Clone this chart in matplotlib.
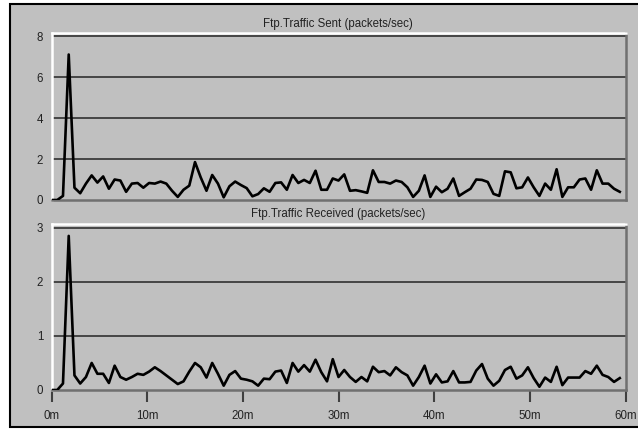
import numpy as np
import matplotlib
matplotlib.use("Agg")
import matplotlib.pyplot as plt
from matplotlib.patches import Rectangle

# samples every 0.6 minutes
minutes = np.arange(100) * 0.6

sent = [0.0, 0.0, 0.2, 7.1, 0.6, 0.33, 0.8, 1.2, 0.85, 1.15,
        0.55, 1.0, 0.95, 0.4, 0.8, 0.83, 0.6, 0.83, 0.8, 0.9,
        0.8, 0.45, 0.15, 0.5, 0.7, 1.85, 1.1, 0.45, 1.22, 0.8,
        0.13, 0.67, 0.9, 0.73, 0.58, 0.18, 0.29, 0.57, 0.4, 0.83,
        0.86, 0.5, 1.22, 0.83, 0.98, 0.83, 1.43, 0.5, 0.5, 1.05,
        0.95, 1.25, 0.45, 0.48, 0.42, 0.35, 1.45, 0.88, 0.88, 0.8,
        0.95, 0.88, 0.62, 0.15, 0.45, 1.2, 0.15, 0.65, 0.38, 0.55,
        1.05, 0.2, 0.38, 0.55, 1.0, 0.98, 0.88, 0.3, 0.2, 1.4,
        1.35, 0.57, 0.62, 1.1, 0.62, 0.2, 0.8, 0.5, 1.5, 0.15,
        0.62, 0.62, 1.0, 1.05, 0.5, 1.45, 0.8, 0.8, 0.55, 0.4]

received = [0.0, 0.0, 0.12, 2.85, 0.27, 0.12, 0.24, 0.5, 0.3, 0.3,
            0.13, 0.45, 0.24, 0.19, 0.24, 0.3, 0.28, 0.34, 0.42, 0.35,
            0.27, 0.19, 0.11, 0.16, 0.34, 0.5, 0.42, 0.23, 0.5, 0.3,
            0.08, 0.28, 0.35, 0.21, 0.19, 0.16, 0.08, 0.21, 0.2, 0.34,
            0.36, 0.13, 0.5, 0.34, 0.46, 0.34, 0.56, 0.33, 0.16, 0.57,
            0.24, 0.37, 0.24, 0.15, 0.24, 0.16, 0.43, 0.33, 0.35, 0.27,
            0.42, 0.33, 0.27, 0.08, 0.24, 0.45, 0.12, 0.29, 0.14, 0.16,
            0.35, 0.14, 0.14, 0.15, 0.36, 0.48, 0.21, 0.08, 0.17, 0.37,
            0.43, 0.21, 0.27, 0.42, 0.22, 0.06, 0.23, 0.15, 0.43, 0.09,
            0.23, 0.23, 0.23, 0.35, 0.3, 0.45, 0.28, 0.24, 0.15, 0.22]

sent_ticks = [0, 2, 4, 6, 8]
recv_ticks = [0, 1, 2, 3]
x_ticks = [0, 10, 20, 30, 40, 50, 60]
x_labels = ["0m", "10m", "20m", "30m", "40m", "50m", "60m"]

GREY = "#c0c0c0"
plt.rcParams['font.family'] = ['Liberation Sans', 'DejaVu Sans']

W, H = 638, 429
fig = plt.figure(figsize=(W / 100, H / 100), dpi=100, facecolor="white")

# grey outer panel with black border on left/top/bottom
panel = Rectangle((10 / W, 1 - 427 / H), 640 / W, 423 / H,
                  transform=fig.transFigure, facecolor=GREY,
                  edgecolor="black", linewidth=1.5, zorder=-5)
fig.patches.append(panel)


def style(ax, ylim, yticks):
    ax.set_facecolor(GREY)
    ax.set_xlim(0, 60)
    ax.set_ylim(*ylim)
    ax.set_yticks(yticks)
    ax.set_yticklabels([str(t) for t in yticks], fontsize=8.3, color="#222222")
    ax.tick_params(axis="y", length=0, pad=6)
    for t in yticks[1:]:
        ax.axhline(t, color="#303030", linewidth=1.2, zorder=1)
    ax.spines["top"].set_color("white")
    ax.spines["left"].set_color("white")
    ax.spines["right"].set_color("#707070")
    ax.spines["bottom"].set_color("#707070")
    for s in ax.spines.values():
        s.set_linewidth(1.8)


ax1 = fig.add_axes([51.5 / W, 1 - 200 / H, 574 / W, 167 / H])
style(ax1, (0, 8.15), sent_ticks)
ax1.plot(minutes, sent, color="black", linewidth=1.9, zorder=3)
ax1.set_xticks([])

ax2 = fig.add_axes([51.5 / W, 1 - 390 / H, 574 / W, 166 / H])
style(ax2, (0, 3.07), recv_ticks)
ax2.plot(minutes, received, color="black", linewidth=1.9, zorder=3)
ax2.set_xticks(x_ticks)
ax2.set_xticklabels(x_labels, fontsize=8.3, color="#222222")
ax2.tick_params(axis="x", length=8.5, width=1.5, color="#404040", pad=6)

fig.text(338 / W, 1 - 24 / H, "Ftp.Traffic Sent (packets/sec)",
         ha="center", va="center", fontsize=8.3, color="#222222")
fig.text(338 / W, 1 - 214 / H, "Ftp.Traffic Received (packets/sec)",
         ha="center", va="center", fontsize=8.3, color="#222222")

fig.savefig("out.png", dpi=100, facecolor="white")
